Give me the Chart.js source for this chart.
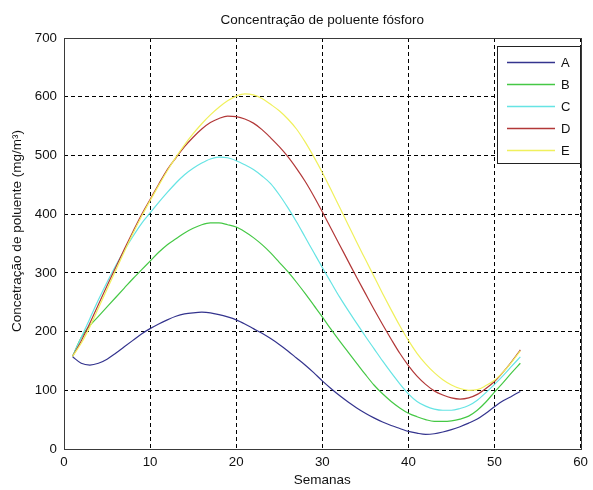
<!DOCTYPE html>
<html><head><meta charset="utf-8">
<script src="https://cdn.jsdelivr.net/npm/chart.js@4"></script>
<style>html,body{margin:0;padding:0;background:#fff}#wrap{width:593px;height:490px}</style>
</head><body><div id="wrap"><canvas id="c" width="593" height="490"></canvas></div>
<script>
const weeks = [1,2,3,4,5,6,7,8,9,10,11,12,13,14,15,16,17,18,19,20,21,22,23,24,25,26,27,28,29,30,31,32,33,34,35,36,37,38,39,40,41,42,43,44,45,46,47,48,49,50,51,52,53];
const seriesNames = ['A','B','C','D','E'];
const serA = [157,146,143,146,153,163,174,185,196,205,213,220,226,230,232,233,232,229,225,220,213,205,197,188,178,167,155,143,130,116,103,91,80,70,61,53,46,40,35,30,27,25,26,29,33,38,44,51,61,72,82,90,98];
const serB = [158,190,210,226,242,258,274,290,305,320,335,348,358,368,376,382,385,385,382,378,370,360,348,334,318,302,284,265,245,225,204,184,165,146,127,109,94,81,70,61,55,50,47,47,48,51,56,66,80,97,113,130,146];
const serC = [158,190,222,254,284,312,338,362,384,402,420,437,453,467,478,487,494,497,496,491,484,476,465,452,433,411,387,361,335,309,284,259,236,214,192,171,150,130,111,94,81,73,68,66,66,69,74,83,96,110,125,141,157];
const serD = [158,184,214,246,278,309,340,370,399,425,451,476,496,515,531,545,556,563,567,566,562,555,544,530,515,498,478,456,431,404,376,348,320,292,265,238,212,187,163,142,124,110,99,92,87,85,87,93,103,115,131,149,169];
const serE = [158,180,208,240,272,304,336,367,396,423,449,474,497,518,537,554,569,582,593,601,605,603,597,587,576,562,545,523,498,471,442,412,382,352,323,294,265,237,210,185,163,145,130,118,109,103,100,101,108,117,131,148,167];
const xTicks = [0,10,20,30,40,50,60];
const yTicks = [0,100,200,300,400,500,600,700];
const titleText = 'Concentração de poluente fósforo';
const yLabel = 'Concetração de poluente (mg/m³)';
const xLabel = 'Semanas';

const seriesValues = [serA, serB, serC, serD, serE];
const colors = ['#34348e', '#45c845', '#66e4e4', '#b23838', '#f0f05c'];
const FONT = '"Liberation Sans", Arial, sans-serif';

const datasets = seriesNames.map((name, i) => ({
  label: name,
  data: weeks.map((w, j) => ({x: w, y: seriesValues[i][j]})),
  borderColor: colors[i],
  backgroundColor: colors[i],
  borderWidth: 1.2,
  pointRadius: 0,
  tension: 0.4,
  cubicInterpolationMode: 'monotone',
  fill: false,
  order: seriesNames.length - i
}));

const framePlugin = {
  id: 'matlabFrame',
  afterDraw(chart) {
    const ctx = chart.ctx;
    const a = chart.chartArea;
    ctx.save();
    ctx.setLineDash([]);
    ctx.strokeStyle = '#3a3a3a';
    ctx.lineWidth = 1;
    ctx.strokeRect(Math.round(a.left) + 0.5, Math.round(a.top) + 0.5, Math.round(a.right - a.left), Math.round(a.bottom - a.top));
    ctx.fillStyle = '#111';
    ctx.font = '13.5px ' + FONT;
    ctx.textAlign = 'center';
    ctx.textBaseline = 'middle';
    ctx.fillText(titleText, (a.left + a.right) / 2, 20);
    ctx.save();
    ctx.translate(17, 231);
    ctx.rotate(-Math.PI / 2);
    ctx.fillText(yLabel, 0, 0);
    ctx.restore();
    const lx = 497.5, ly = 46.5, lw = 83, lh = 117;
    ctx.fillStyle = '#fff';
    ctx.fillRect(lx, ly, lw, lh);
    ctx.strokeStyle = '#222';
    ctx.strokeRect(lx, ly, lw, lh);
    ctx.font = '13px ' + FONT;
    ctx.textAlign = 'left';
    seriesNames.forEach((name, i) => {
      const yy = 62 + i * 22;
      ctx.strokeStyle = colors[i];
      ctx.lineWidth = 1.3;
      ctx.beginPath();
      ctx.moveTo(507, yy + 0.5);
      ctx.lineTo(555, yy + 0.5);
      ctx.stroke();
      ctx.fillStyle = '#111';
      ctx.fillText(name, 561, yy + 1);
    });
    ctx.restore();
  }
};

new Chart(document.getElementById('c'), {
  type: 'line',
  data: { datasets },
  options: {
    responsive: false,
    devicePixelRatio: 1,
    animation: false,
    layout: { padding: { left: 0, right: 8, top: 38, bottom: 0 } },
    plugins: { legend: { display: false }, title: { display: false }, tooltip: { enabled: false } },
    scales: {
      x: {
        type: 'linear', min: 0, max: 60,
        afterBuildTicks: s => { s.ticks = xTicks.map(v => ({ value: v })); },
        afterFit: s => { s.height = 41; },
        ticks: { color: '#111', font: { family: FONT, size: 13.3 }, padding: 5, maxRotation: 0, autoSkip: false },
        grid: { color: '#000', lineWidth: 1, drawTicks: false },
        border: { display: false, dash: [4, 3] },
        title: { display: true, text: xLabel, color: '#111', font: { family: FONT, size: 13.5 }, padding: { top: 0, bottom: 2 } }
      },
      y: {
        type: 'linear', min: 0, max: 700,
        afterBuildTicks: s => { s.ticks = yTicks.map(v => ({ value: v })); },
        afterFit: s => { s.width = 64; },
        ticks: { color: '#111', font: { family: FONT, size: 13.3 }, padding: 7, autoSkip: false },
        grid: { color: '#000', lineWidth: 1, drawTicks: false },
        border: { display: false, dash: [4, 3] }
      }
    }
  },
  plugins: [framePlugin]
});
</script>
</body></html>
